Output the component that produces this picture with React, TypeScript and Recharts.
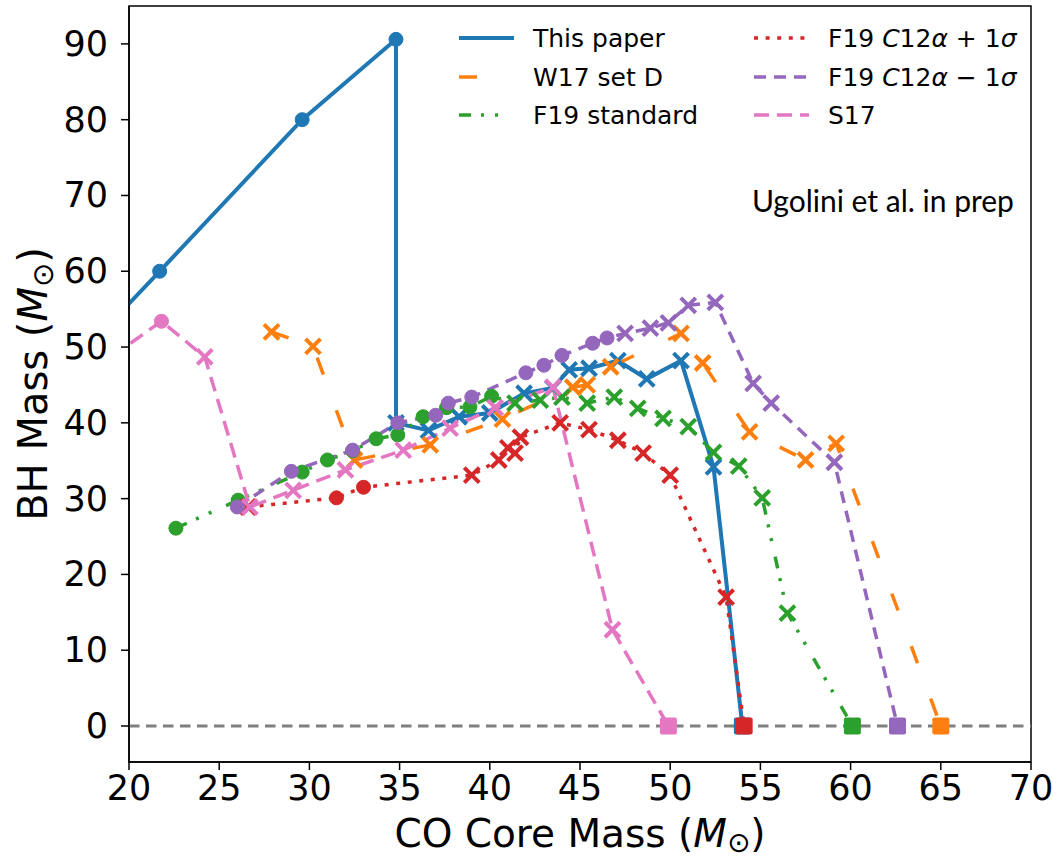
import React from "react";
import {
  ComposedChart,
  Line,
  XAxis,
  YAxis,
  ReferenceLine,
  ReferenceArea,
} from "recharts";

// CO core mass (x) and BH mass (y) per model; markers: o circle, x cross, s square, - none
const paperX = [17.8, 21.7, 29.6, 34.8, 34.8, 36.6, 38.3, 40.0, 41.9, 43.5, 44.4, 45.5, 47.1, 48.7, 50.6, 52.4, 54.0];
const paperY = [50.2, 60.0, 80.0, 90.6, 40.0, 39.0, 40.8, 41.3, 43.9, 44.6, 47.0, 47.2, 48.2, 45.8, 48.2, 34.2, 0];
const paperM = "-oooxxxxxxxxxxxxs";

const w17X = [27.9, 30.2, 32.5, 36.7, 40.7, 44.6, 45.4, 46.7, 50.6, 51.8, 54.4, 57.5, 59.2, 65.0];
const w17Y = [52.0, 50.1, 35.1, 37.1, 40.5, 44.7, 45.0, 47.4, 51.8, 47.9, 38.8, 35.1, 37.3, 0];
const w17M = "xxxxxxxxxxxxxs";

const f19X = [22.6, 26.05, 29.6, 31.0, 32.4, 33.7, 34.9, 36.3, 37.6, 38.9, 40.1, 41.4, 42.8, 44.0, 45.4, 46.9, 48.2, 49.6, 51.0, 52.4, 53.8, 55.1, 56.5, 60.1];
const f19Y = [26.1, 29.8, 33.5, 35.1, 36.3, 37.9, 38.4, 40.8, 42.0, 42.1, 43.5, 42.6, 43.0, 43.4, 42.6, 43.4, 41.9, 40.6, 39.5, 36.1, 34.3, 30.1, 14.9, 0];
const f19M = "oooooooooooxxxxxxxxxxxxs";

const plusX = [26.6, 31.5, 33.0, 39.0, 40.5, 41.0, 41.4, 41.7, 43.9, 45.5, 47.1, 48.5, 50.0, 53.1, 54.1];
const plusY = [28.9, 30.1, 31.5, 33.1, 35.1, 36.7, 36.0, 38.1, 40.0, 39.1, 37.7, 36.0, 33.1, 17.0, 0];
const plusM = "xooxxxxxxxxxxxs";

const minusX = [26.0, 29.0, 32.4, 34.9, 37.0, 37.7, 39.0, 42.0, 43.0, 44.0, 45.7, 46.5, 47.5, 48.9, 49.9, 51.0, 52.5, 54.6, 55.6, 59.1, 62.6];
const minusY = [28.9, 33.6, 36.4, 40.0, 41.0, 42.6, 43.4, 46.6, 47.6, 48.9, 50.5, 51.2, 51.8, 52.5, 53.2, 55.5, 55.9, 45.2, 42.6, 34.8, 0];
const minusM = "ooooooooooooxxxxxxxxs";

const s17X = [18.0, 21.8, 24.2, 26.7, 29.1, 32.0, 35.2, 37.8, 40.3, 43.5, 46.8, 49.9];
const s17Y = [47.0, 53.4, 48.7, 28.9, 31.1, 33.8, 36.4, 39.3, 42.0, 44.7, 12.7, 0];
const s17M = "-oxxxxxxxxxs";

const xTicks = [20, 25, 30, 35, 40, 45, 50, 55, 60, 65, 70];
const yTicks = [0, 10, 20, 30, 40, 50, 60, 70, 80, 90];

const toPoints = (xs: number[], ys: number[]) => xs.map((x, i) => ({ x, y: ys[i] }));

const series = [
  { key: "paper", color: "#1f77b4", dash: undefined, width: 4, data: toPoints(paperX, paperY), marks: paperM },
  { key: "w17", color: "#ff7f0e", dash: "18 38", width: 3.5, data: toPoints(w17X, w17Y), marks: w17M },
  { key: "f19", color: "#2ca02c", dash: "12 10 3 11 3 16", width: 3.5, data: toPoints(f19X, f19Y), marks: f19M },
  { key: "plus", color: "#d62728", dash: "4 7.6", width: 3.5, data: toPoints(plusX, plusY), marks: plusM },
  { key: "minus", color: "#9467bd", dash: "12 8", width: 3.5, data: toPoints(minusX, minusY), marks: minusM },
  { key: "s17", color: "#e377c2", dash: "15 8", width: 3.5, data: toPoints(s17X, s17Y), marks: s17M },
];

const FONT = "'DejaVu Sans', sans-serif";

function makeDot(color: string, marks: string) {
  return (props: any) => {
    const { cx, cy, index } = props;
    const m = marks[index];
    if (cx == null || cy == null || m === "-") return <g key={`d${index}`} />;
    if (m === "o")
      return <circle key={`d${index}`} cx={cx} cy={cy} r={7} fill={color} stroke={color} strokeWidth={1} />;
    if (m === "s")
      return <rect key={`d${index}`} x={cx - 8.5} y={cy - 8.5} width={17} height={17} rx={2} fill={color} />;
    const d = 7.5;
    return (
      <path
        key={`d${index}`}
        d={`M${cx - d},${cy - d}L${cx + d},${cy + d}M${cx - d},${cy + d}L${cx + d},${cy - d}`}
        stroke={color}
        strokeWidth={4}
        fill="none"
      />
    );
  };
}

const XTick = (props: any) => (
  <text x={props.x} y={800} textAnchor="middle" fontFamily={FONT} fontSize={35} fill="#000">
    {props.payload.value}
  </text>
);

const YTick = (props: any) => (
  <text x={108} y={props.y} textAnchor="end" dominantBaseline="central" fontFamily={FONT} fontSize={35} fill="#000">
    {props.payload.value}
  </text>
);

const XLabel = () => (
  <text x={580} y={847} textAnchor="middle" fontFamily={FONT} fontSize={39} fill="#000">
    <tspan>CO Core Mass (</tspan>
    <tspan fontStyle="italic">M</tspan>
    <tspan fontSize={28} dy={5}>⊙</tspan>
    <tspan dy={-5}>)</tspan>
  </text>
);

const YLabel = () => (
  <text
    x={47}
    y={384}
    transform="rotate(-90 47 384)"
    textAnchor="middle"
    fontFamily={FONT}
    fontSize={40}
    fill="#000"
  >
    <tspan>BH Mass (</tspan>
    <tspan fontStyle="italic">M</tspan>
    <tspan fontSize={29} dy={6}>⊙</tspan>
    <tspan dy={-6}>)</tspan>
  </text>
);

const it = { fontStyle: "italic" as const };

const legendItems = [
  { s: series[0], label: <>This paper</>, left: 459, top: 38 },
  { s: series[1], label: <>W17 set D</>, left: 459, top: 77 },
  { s: series[2], label: <>F19 standard</>, left: 459, top: 115 },
  {
    s: series[3],
    label: (
      <>
        F19 <span style={it}>C</span>12<span style={it}>α</span> + 1<span style={it}>σ</span>
      </>
    ),
    left: 754,
    top: 38,
  },
  {
    s: series[4],
    label: (
      <>
        F19 <span style={it}>C</span>12<span style={it}>α</span> − 1<span style={it}>σ</span>
      </>
    ),
    left: 754,
    top: 77,
  },
  { s: series[5], label: <>S17</>, left: 754, top: 115 },
];

export default function App() {
  return (
    <div style={{ position: "absolute", left: 0, top: 0, width: 1053, height: 859, background: "#fff" }}>
      <ComposedChart width={1053} height={859} margin={{ top: 6, right: 22, bottom: 0, left: 0 }}>
        <XAxis
          type="number"
          dataKey="x"
          domain={[20, 70]}
          ticks={xTicks}
          allowDataOverflow
          height={97}
          tickSize={8}
          tick={XTick}
          tickLine={{ stroke: "#000", strokeWidth: 1.5 }}
          axisLine={{ stroke: "#000", strokeWidth: 1.5 }}
          label={{ content: XLabel }}
        />
        <YAxis
          type="number"
          domain={[-4.75, 95]}
          ticks={yTicks}
          allowDataOverflow
          width={129}
          tickSize={8}
          tick={YTick}
          tickLine={{ stroke: "#000", strokeWidth: 1.5 }}
          axisLine={{ stroke: "#000", strokeWidth: 1.5 }}
          label={{ content: YLabel }}
        />
        <ReferenceArea
          x1={20}
          x2={70}
          y1={-4.75}
          y2={95}
          fill="none"
          stroke="#000"
          strokeWidth={1.5}
          ifOverflow="visible"
        />
        {series.map((s) => (
          <Line
            key={s.key}
            data={s.data}
            dataKey="y"
            type="linear"
            stroke={s.color}
            strokeWidth={s.width}
            strokeDasharray={s.dash}
            dot={makeDot(s.color, s.marks)}
            activeDot={false}
            isAnimationActive={false}
          />
        ))}
        <ReferenceLine y={0} stroke="#7f7f7f" strokeWidth={3} strokeDasharray="10.5 6.5" />
      </ComposedChart>

      {legendItems.map((li, i) => (
        <div
          key={i}
          style={{
            position: "absolute",
            left: li.left,
            top: li.top - 16,
            height: 32,
            display: "flex",
            alignItems: "center",
            fontFamily: FONT,
            fontSize: 25,
            color: "#000",
            whiteSpace: "nowrap",
          }}
        >
          <svg width={56} height={10} style={{ marginRight: 18 }}>
            <line
              x1={0}
              y1={5}
              x2={55}
              y2={5}
              stroke={li.s.color}
              strokeWidth={li.s.width}
              strokeDasharray={li.s.dash}
            />
          </svg>
          <span>{li.label}</span>
        </div>
      ))}

      <div
        style={{
          position: "absolute",
          left: 752,
          top: 182,
          fontFamily: "Lato, 'Open Sans', sans-serif",
          fontSize: 30,
          lineHeight: "36px",
          color: "#000",
          whiteSpace: "nowrap",
        }}
      >
        Ugolini et al. in prep
      </div>
    </div>
  );
}
